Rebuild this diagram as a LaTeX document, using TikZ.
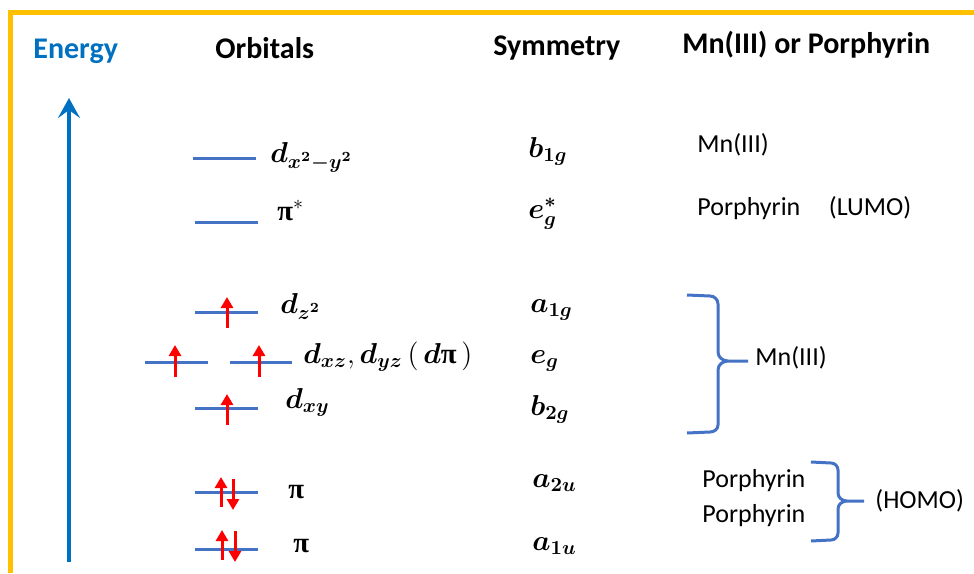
\documentclass[tikz,border=0pt]{standalone}
\usepackage{fontspec}
\setmainfont{Carlito}
\newfontfamily\grkfont{Liberation Serif}
\usepackage{amsmath}
\usepackage{bm}
\usetikzlibrary{arrows.meta}
\definecolor{frameyellow}{HTML}{FFC000}
\definecolor{energyblue}{HTML}{0070C0}
\definecolor{levelblue}{HTML}{4472C4}
\newcommand{\bpi}{\text{\grkfont\bfseries π}}
\tikzset{
    level/.style={levelblue, line width=1.5pt},
    spin/.style={red, line width=1.5pt, -{Triangle[length=5.5pt,width=6pt]}},
    heading/.style={anchor=base west, inner sep=0pt, font=\fontsize{15}{17}\selectfont\bfseries},
    orblabel/.style={anchor=base west, inner sep=0pt, font=\fontsize{14.4}{16}\selectfont},
    symlabel/.style={anchor=base west, inner sep=0pt, font=\fontsize{14.4}{16}\selectfont},
    origin/.style={anchor=base west, inner sep=0pt, font=\fontsize{13}{15}\selectfont},
    brace/.style={levelblue, line width=1.5pt}
}

\begin{document}
\begin{tikzpicture}[x=0.5pt, y=-0.5pt]
        \useasboundingbox (0,0) rectangle (974,573);
        \draw[frameyellow, line width=2.5pt] (10,573) -- (10,12.5) -- (974,12.5);
        \draw[energyblue, line width=2pt, -{Stealth[length=10pt,width=11pt,inset=4pt]}] (69,562) -- (69,98);
        % Below nodes are the headings.
            \node[heading, text=energyblue] (energy) at (33,58) {Energy};
            \node[heading] (orbitals) at (215,58) {Orbitals};
            \node[heading] (symmetry) at (493,55) {Symmetry};
            \node[heading] (source) at (682,53) {Mn(III) or Porphyrin};
        % The energy levels.
            \draw[level] (193,158) -- (256,158);
            \draw[level] (195,222) -- (258,222);
            \draw[level] (195,312) -- (258,312);
            \draw[level] (145,362) -- (208,362);
            \draw[level] (230,362) -- (292,362);
            \draw[level] (195,408) -- (258,408);
            \draw[level] (195,492) -- (258,492);
            \draw[level] (195,549) -- (258,549);
        % The electrons.
            \draw[spin] (227,328) -- (227,297);
            \draw[spin] (175,377) -- (175,345);
            \draw[spin] (259,377) -- (259,345);
            \draw[spin] (227,425) -- (227,394);
            \draw[spin] (221,507) -- (221,477);
            \draw[spin] (233,479) -- (233,510);
            \draw[spin] (222,560) -- (222,530);
            \draw[spin] (235,531) -- (235,562);
        % Orbital labels.
            \node[orblabel] (dx2y2) at (270,162) {$\bm{d_{x^2-y^2}}$};
            \node[orblabel] (pistar) at (277,220) {$\bpi^{*}$};
            \node[orblabel] (dz2) at (280,313) {$\bm{d_{z^2}}$};
            \node[orblabel] (dpi) at (303,363) {$\bm{d_{xz}},\bm{d_{yz}}\,(\,\bm{d}\bpi\,)$};
            \node[orblabel] (dxy) at (285,408) {$\bm{d_{xy}}$};
            \node[orblabel] (pihi) at (288,498) {$\bpi$};
            \node[orblabel] (pilo) at (293,552) {$\bpi$};
        % Symmetry labels.
            \node[symlabel] (bonegee) at (528,157) {$\bm{b_{1g}}$};
            \node[symlabel] (egstar) at (528,218) {$\bm{e_g^{*}}$};
            \node[symlabel] (aonegee) at (530,312) {$\bm{a_{1g}}$};
            \node[symlabel] (egee) at (530,363) {$\bm{e_g}$};
            \node[symlabel] (btwogee) at (530,415) {$\bm{b_{2g}}$};
            \node[symlabel] (atwou) at (532,487) {$\bm{a_{2u}}$};
            \node[symlabel] (aoneu) at (532,550) {$\bm{a_{1u}}$};
        % Where each orbital comes from.
            \node[origin] (mntop) at (697,152) {Mn(III)};
            \node[origin] (lumo) at (697,215) {Porphyrin\hspace{1.1em}(LUMO)};
            \node[origin] (mnmid) at (755,365) {Mn(III)};
            \node[origin] (porone) at (702,487) {Porphyrin};
            \node[origin] (portwo) at (702,522) {Porphyrin};
            \node[origin] (homo) at (875,508) {(HOMO)};
        % The two braces.
            \draw[brace] (687,295) -- (710,296) to[out=0,in=90] (718,304) -- (718,352)
                to[out=-90,in=180] (728,361) -- (748,361)
                (728,361) to[out=180,in=90] (718,370) -- (718,425)
                to[out=-90,in=0] (710,432) -- (687,433);
            \draw[brace] (811,462) -- (831,463) to[out=0,in=90] (838,470) -- (838,493)
                to[out=-90,in=180] (847,501) -- (864,501)
                (847,501) to[out=180,in=90] (838,509) -- (838,533)
                to[out=-90,in=0] (831,540) -- (811,541);
    \end{tikzpicture}
\end{document}
